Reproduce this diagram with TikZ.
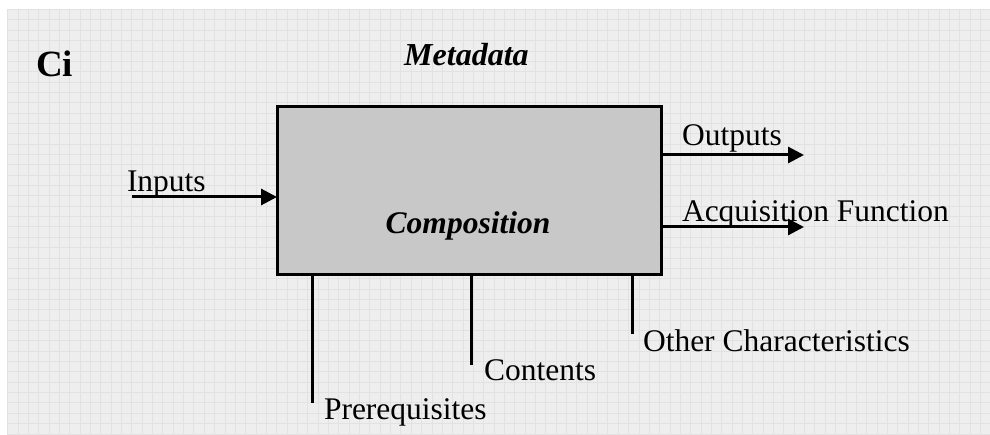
\documentclass[tikz,border=0pt]{standalone}
\usepackage{fontspec}
\setmainfont{Liberation Serif}
\usetikzlibrary{arrows.meta}
\definecolor{bgcol}{RGB}{238,238,238}
\definecolor{gridcol}{RGB}{226,226,226}
\definecolor{boxgray}{RGB}{200,200,200}
\tikzset{
  lbl/.style={anchor=base west, inner sep=0pt, outer sep=0pt, font=\fontsize{31.5}{36}\selectfont},
  conn/.style={line width=3pt, black},
  arr/.style={conn, -{Triangle[length=16pt,width=16pt]}},
  mainbox/.style={draw=black, line width=3pt, fill=boxgray, minimum width=384pt, minimum height=168pt, inner sep=0pt, outer sep=0pt}
}
\begin{document}
\begin{tikzpicture}[x=1pt,y=-1pt]
\useasboundingbox (0,0) rectangle (990,435);
% background grid
\fill[bgcol] (7.5,9.5) rectangle (990,435);
\foreach \i in {0,...,95} {
  \draw[gridcol, line width=0.7pt] ({7.5+10.35*\i},9.5) -- ({7.5+10.35*\i},435);
}
\foreach \j in {0,...,41} {
  \draw[gridcol, line width=0.7pt] (7.5,{9.5+10.35*\j}) -- (990,{9.5+10.35*\j});
}
% titles
\node[anchor=base west, inner sep=0pt, font=\fontsize{37}{40}\selectfont\bfseries] (ci) at (36,77) {Ci};
\node[anchor=base west, inner sep=0pt, font=\fontsize{32}{36}\selectfont\bfseries\itshape] (meta) at (404,66) {Metadata};
% main box
\node[mainbox] (box) at (469,191) {};
\node[anchor=base, inner sep=0pt, font=\fontsize{31.5}{36}\selectfont\bfseries\itshape] (comp) at (468,234) {Composition};
% inputs
\coordinate (inS) at (132,197);
\draw[arr] (inS) -- (inS -| box.west);
\node[lbl] (inputs) at (127,192) {Inputs};
% outputs
\coordinate (outE) at (804,155);
\draw[arr] (outE -| box.east) -- (outE);
\node[lbl] (outputs) at (682,146) {Outputs};
% acquisition
\coordinate (acqE) at (804,227);
\draw[arr] (acqE -| box.east) -- (acqE);
\node[lbl] (acq) at (682,222) {Acquisition Function};
% bottom lines
\coordinate (prB) at (312,403);
\coordinate (coB) at (471,365);
\coordinate (otB) at (632,334);
\draw[conn] (prB |- box.south) -- (prB);
\draw[conn] (coB |- box.south) -- (coB);
\draw[conn] (otB |- box.south) -- (otB);
\node[lbl] (prer) at (324,419) {Prerequisites};
\node[lbl] (cont) at (484,381) {Contents};
\node[lbl] (other) at (643,352) {Other Characteristics};
\end{tikzpicture}
\end{document}
